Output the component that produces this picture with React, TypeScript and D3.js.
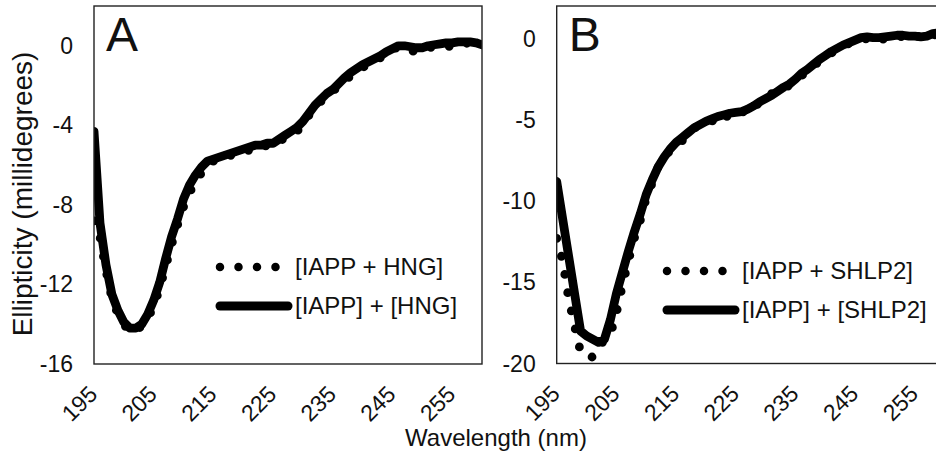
import React from 'react';
import * as d3 from 'd3';

// Wavelength (nm)
const wavelengths = [195,196,197,198,199,200,201,202,203,204,205,206,207,208,209,210,211,212,213,214,215,216,217,218,219,220,221,222,223,224,225,226,227,228,229,230,231,232,233,234,235,236,237,238,239,240,241,242,243,244,245,246,247,248,249,250,251,252,253,254,255,256,257,258,259,260];

// Panel A: [IAPP + HNG] (dotted)
const hngMixed = [-8.8,-9.6,-11.3,-12.7,-13.5,-14.0,-14.4,-14.3,-14.1,-13.7,-13.1,-12.2,-11.1,-10.0,-9.0,-8.1,-7.4,-6.8,-6.4,-6.0,-5.8,-5.75,-5.6,-5.5,-5.4,-5.3,-5.25,-5.1,-5.15,-5.0,-5.0,-4.85,-4.6,-4.5,-4.3,-4.0,-3.5,-3.1,-2.8,-2.6,-2.3,-2.0,-1.8,-1.5,-1.3,-1.1,-0.9,-0.75,-0.6,-0.35,-0.2,-0.05,-0.1,-0.25,-0.3,-0.2,-0.1,-0.05,0.0,0.0,-0.05,0.0,0.15,0.1,0.0,-0.25];
// Panel A: [IAPP] + [HNG] (solid)
const hngSum = [-4.3,-8.9,-11.0,-12.5,-13.3,-13.9,-14.2,-14.2,-14.0,-13.5,-12.8,-11.9,-10.7,-9.6,-8.7,-7.7,-7.0,-6.5,-6.1,-5.8,-5.7,-5.6,-5.5,-5.4,-5.3,-5.2,-5.1,-5.0,-5.0,-4.9,-4.9,-4.7,-4.5,-4.3,-4.1,-3.8,-3.4,-3.0,-2.7,-2.4,-2.2,-1.9,-1.6,-1.35,-1.15,-0.95,-0.8,-0.65,-0.5,-0.3,-0.15,0.0,0.0,-0.05,-0.1,-0.1,0.0,0.05,0.1,0.15,0.15,0.2,0.2,0.2,0.15,0.05];

// Panel B: [IAPP + SHLP2] (dotted)
const shlpMixed = [-12.3,-13.7,-16.0,-17.7,-19.3,-19.6,-19.6,-18.9,-18.6,-18.2,-16.9,-15.2,-13.7,-12.3,-11.2,-9.8,-8.9,-7.9,-7.3,-6.9,-6.5,-6.3,-5.9,-5.5,-5.4,-5.2,-5.1,-4.8,-5.0,-4.6,-4.7,-4.6,-4.2,-4.3,-3.9,-3.8,-3.4,-3.3,-3.0,-2.9,-2.5,-2.3,-2.0,-1.7,-1.4,-1.1,-0.9,-0.7,-0.5,-0.3,-0.25,-0.1,0.0,-0.2,-0.1,0.0,0.1,0.05,0.15,-0.05,0.1,0.15,-0.05,0.2,0.3,0.35];
// Panel B: [IAPP] + [SHLP2] (solid)
const shlpSum = [-8.8,-11.1,-13.4,-15.7,-18.0,-18.3,-18.5,-18.7,-18.5,-17.3,-15.7,-14.4,-13.1,-11.9,-10.8,-9.6,-8.7,-7.9,-7.3,-6.8,-6.4,-6.1,-5.8,-5.5,-5.3,-5.1,-4.95,-4.8,-4.7,-4.6,-4.55,-4.5,-4.35,-4.15,-3.9,-3.7,-3.5,-3.25,-3.0,-2.8,-2.5,-2.15,-1.9,-1.6,-1.3,-1.05,-0.8,-0.6,-0.4,-0.25,-0.1,0.05,0.1,0.05,0.05,0.1,0.15,0.2,0.2,0.15,0.15,0.1,0.15,0.3,0.35,0.4];

const xTicks = [195, 205, 215, 225, 235, 245, 255];
const yTicksA = [0, -4, -8, -12, -16];
const yTicksB = [0, -5, -10, -15, -20];
const legendA = ['[IAPP + HNG]', '[IAPP] + [HNG]'];
const legendB = ['[IAPP + SHLP2]', '[IAPP] + [SHLP2]'];

const FONT = "'Liberation Sans', Arial, sans-serif";
const LW = 8.8;

type PanelProps = {
  id: string;
  left: number; right: number; top: number; bottom: number;
  yDomain: [number, number];
  yTicks: number[];
  dotted: number[];
  solid: number[];
  legend: string[];
  label: string;
  legX: number; legY: number;
};

function Panel(p: PanelProps) {
  const x = d3.scaleLinear().domain([195, 260]).range([p.left, p.right]);
  const y = d3.scaleLinear().domain(p.yDomain).range([p.bottom, p.top]);
  const line = d3.line<number>()
    .x((_, i) => x(wavelengths[i]))
    .y((d) => y(d))
    .curve(d3.curveLinear);
  const clipId = 'clip-' + p.id;
  return (
    <g>
      <defs>
        <clipPath id={clipId}>
          <rect x={p.left} y={p.top} width={p.right - p.left} height={p.bottom - p.top} />
        </clipPath>
      </defs>
      <g clipPath={`url(#${clipId})`}>
        <path d={line(p.dotted) || ''} fill="none" stroke="#000" strokeWidth={LW}
          strokeLinecap="round" strokeLinejoin="round" strokeDasharray={`0 18.5`} />
        <path d={line(p.solid) || ''} fill="none" stroke="#000" strokeWidth={LW}
          strokeLinecap="round" strokeLinejoin="round" />
      </g>
      <rect x={p.left} y={p.top} width={p.right - p.left} height={p.bottom - p.top}
        fill="none" stroke="#222" strokeWidth={1.4} />
      {p.yTicks.map((t) => (
        <text key={'y' + t} x={p.left - 21} y={y(t)} dy="0.35em" textAnchor="end"
          fontSize={23} fontFamily={FONT} fill="#111">{t}</text>
      ))}
      {xTicks.map((t) => (
        <text key={'x' + t} transform={`translate(${x(t) - 1},${p.bottom + 26}) rotate(-45)`}
          dy="0.35em" textAnchor="end" fontSize={23} fontFamily={FONT} fill="#111">{t}</text>
      ))}
      <text x={p.left + 12} y={p.top + 45} fontSize={48} fontFamily={FONT} fill="#111">{p.label}</text>
      <g>
        <line x1={p.legX + 4} x2={p.legX + 60} y1={p.legY} y2={p.legY} stroke="#000" strokeWidth={8.5}
          strokeLinecap="round" strokeDasharray={`0 18.5`} />
        <line x1={p.legX + 4} x2={p.legX + 72} y1={p.legY + 39} y2={p.legY + 39} stroke="#000"
          strokeWidth={9} strokeLinecap="round" />
        <text x={p.legX + 79} y={p.legY} dy="0.35em" fontSize={24} fontFamily={FONT} fill="#111">{p.legend[0]}</text>
        <text x={p.legX + 79} y={p.legY + 39} dy="0.35em" fontSize={24} fontFamily={FONT} fill="#111">{p.legend[1]}</text>
      </g>
    </g>
  );
}

export default function App() {
  return (
    <svg width={936} height={455} style={{ position: 'absolute', left: 0, top: 0, background: '#fff' }}>
      <rect width={936} height={455} fill="#fff" />
      <Panel id="a" left={94} right={482} top={6} bottom={364} yDomain={[-16, 2]} yTicks={yTicksA}
        dotted={hngMixed} solid={hngSum} legend={legendA} label="A" legX={216} legY={267} />
      <Panel id="b" left={556.7} right={944.7} top={6} bottom={363.5} yDomain={[-20, 2]} yTicks={yTicksB}
        dotted={shlpMixed} solid={shlpSum} legend={legendB} label="B" legX={663} legY={271} />
      <text transform="translate(22,194) rotate(-90)" textAnchor="middle" dy="0.35em"
        fontSize={28} fontFamily={FONT} fill="#111">Ellipticity (millidegrees)</text>
      <text x={496} y={446} textAnchor="middle" fontSize={24} fontFamily={FONT} fill="#111">Wavelength (nm)</text>
    </svg>
  );
}
